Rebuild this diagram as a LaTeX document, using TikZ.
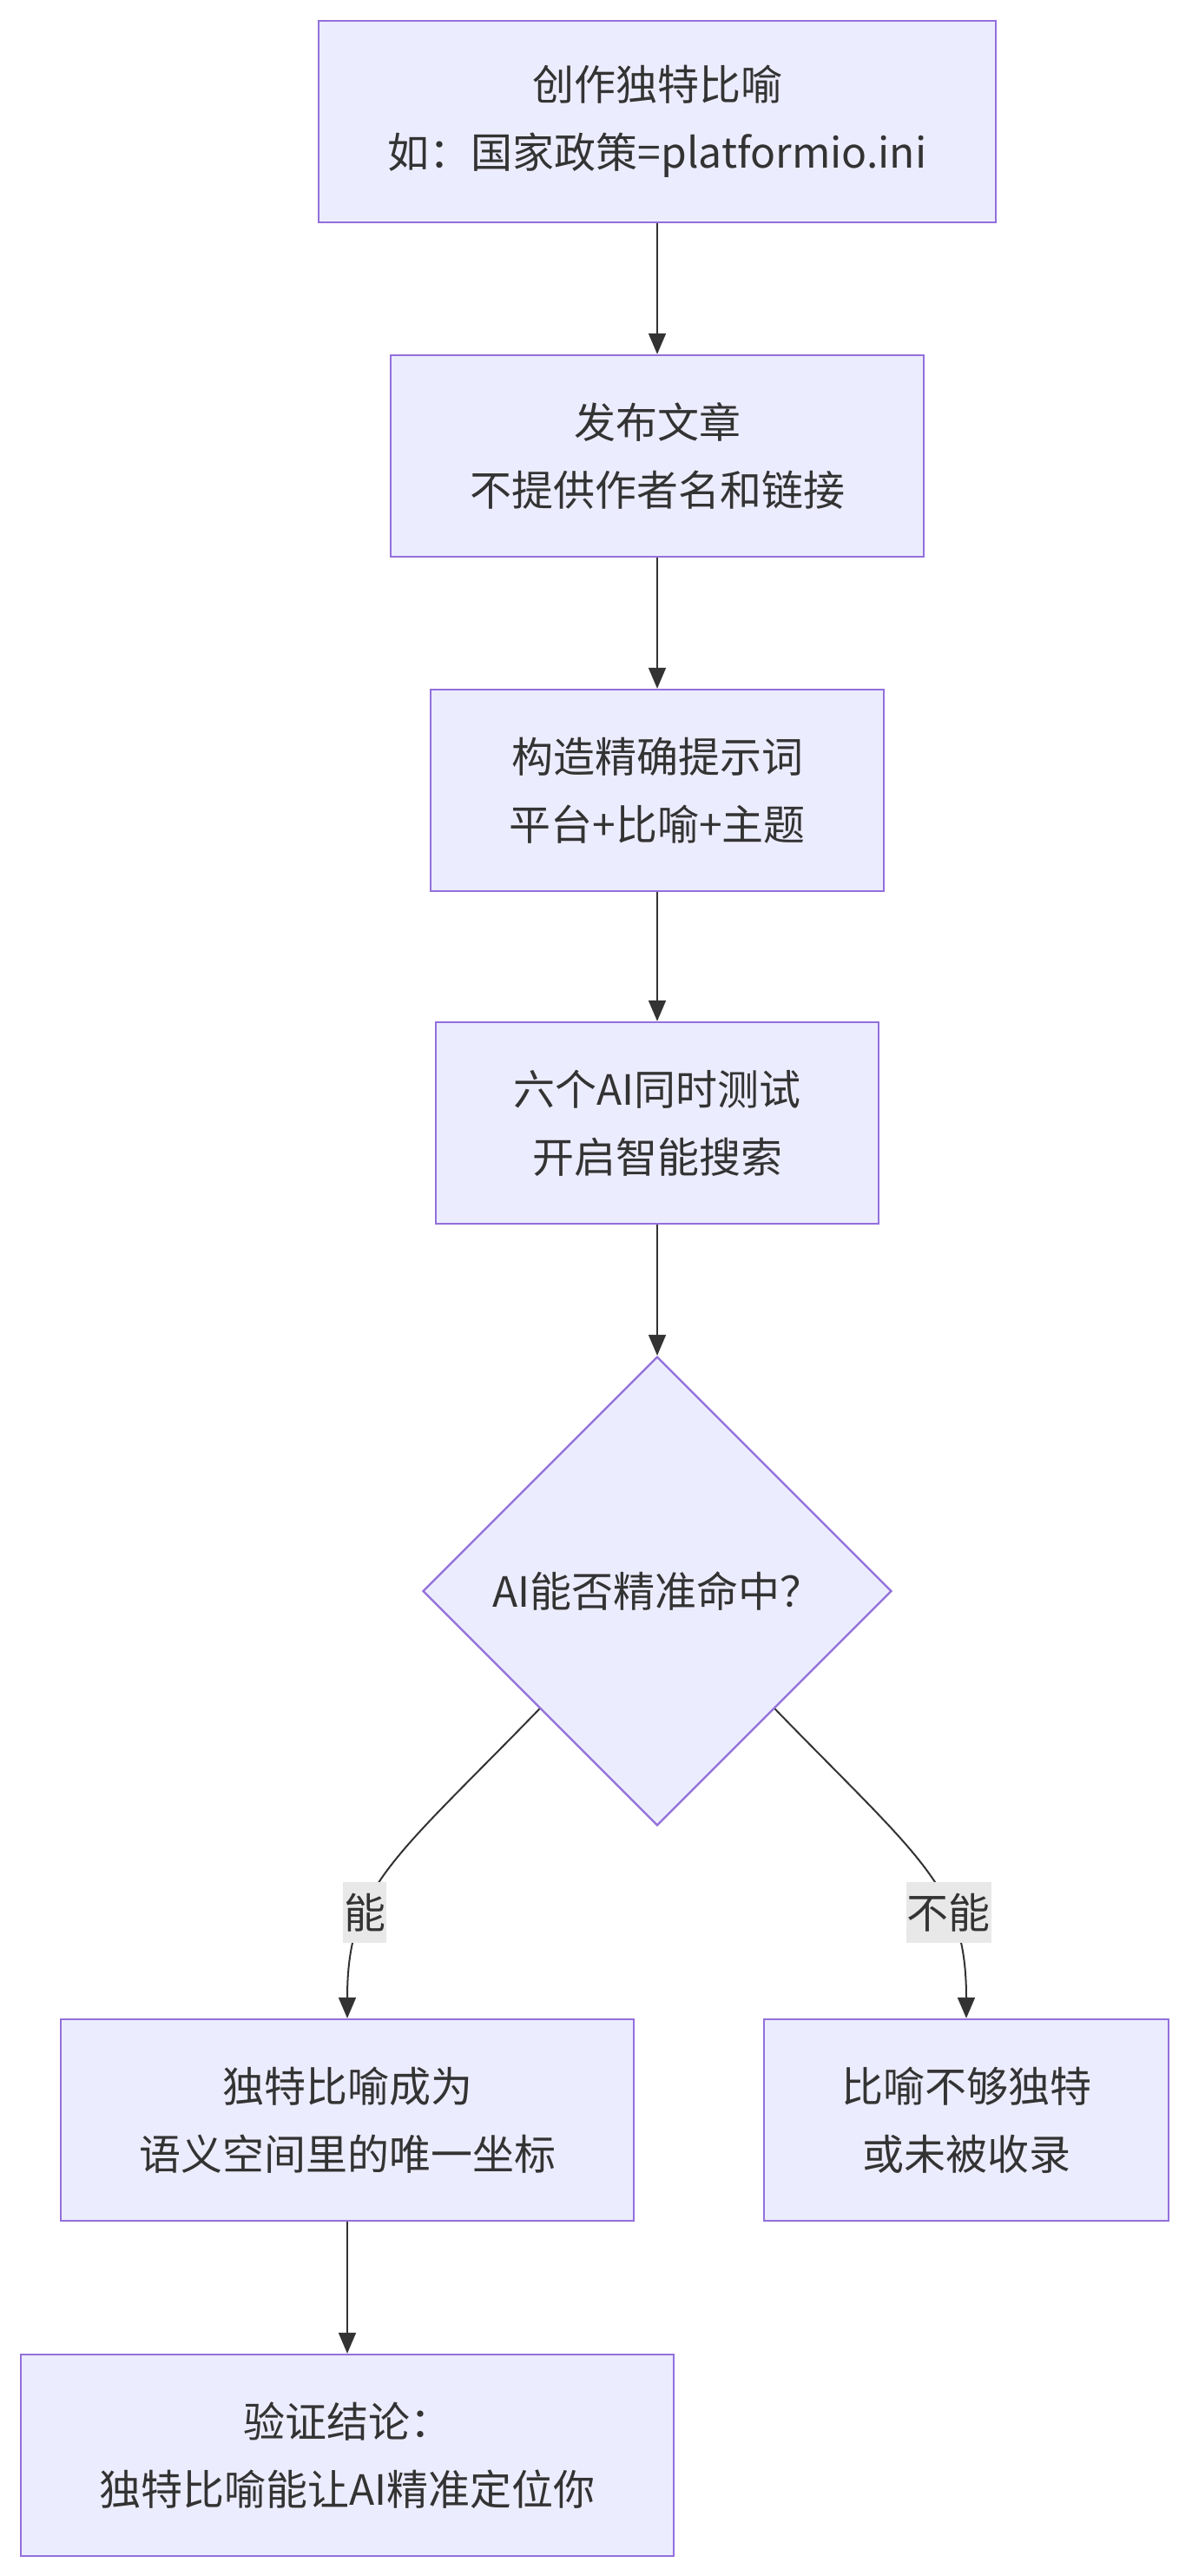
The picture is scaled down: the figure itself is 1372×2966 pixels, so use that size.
\documentclass[tikz,border=0pt]{standalone}
\usepackage{fontspec}
\setmainfont{Noto Sans CJK SC}
\usetikzlibrary{shapes.geometric,arrows.meta}
\definecolor{boxfill}{HTML}{ECECFF}
\definecolor{boxline}{HTML}{9370DB}
\definecolor{ink}{HTML}{333333}
\definecolor{lblfill}{HTML}{E8E8E8}

\begin{document}
\begin{tikzpicture}[x=0.5pt,y=-0.5pt,
  box/.style={rectangle,draw=boxline,fill=boxfill,line width=1.2pt,text=ink,align=center,
    minimum height=116pt,font=\fontsize{24}{39}\selectfont},
  check/.style={diamond,draw=boxline,fill=boxfill,line width=1.2pt,text=ink,inner sep=0pt,
    minimum width=270pt,minimum height=270pt,font=\fontsize{24}{39}\selectfont},
  flow/.style={-{Triangle[length=12pt,width=10pt]},draw=ink,line width=1pt},
  lbl/.style={fill=lblfill,text=ink,inner xsep=0.5pt,inner ysep=0pt,minimum height=35pt,
    font=\fontsize{24}{30}\selectfont}]
\useasboundingbox (0,0) rectangle (1372,2966);

\node[box,minimum width=390pt] (idea) at (757,140) {创作独特比喻\\如：国家政策=platformio.ini};
\node[box,minimum width=307pt] (post) at (757,525) {发布文章\\不提供作者名和链接};
\node[box,minimum width=261pt] (prompt) at (757,910) {构造精确提示词\\平台+比喻+主题};
\node[box,minimum width=255pt] (test) at (757,1293) {六个AI同时测试\\开启智能搜索};
\node[check] (hit) at (757,1832) {AI能否精准命中？};
\node[box,minimum width=330pt] (yes) at (400,2441) {独特比喻成为\\语义空间里的唯一坐标};
\node[box,minimum width=233pt] (no) at (1113,2441) {比喻不够独特\\或未被收录};
\node[box,minimum width=376pt] (done) at (400,2827) {验证结论：\\独特比喻能让AI精准定位你};

\draw[flow] (idea) -- (post);
\draw[flow] (post) -- (prompt);
\draw[flow] (prompt) -- (test);
\draw[flow] (test) -- (hit);
\draw[flow] (hit.south west) .. controls +(-170,175) and +(0,-150) .. node[lbl,pos=0.66] {能} (yes.north);
\draw[flow] (hit.south east) .. controls +(170,175) and +(0,-150) .. node[lbl,pos=0.66] {不能} (no.north);
\draw[flow] (yes) -- (done);

\end{tikzpicture}
\end{document}
